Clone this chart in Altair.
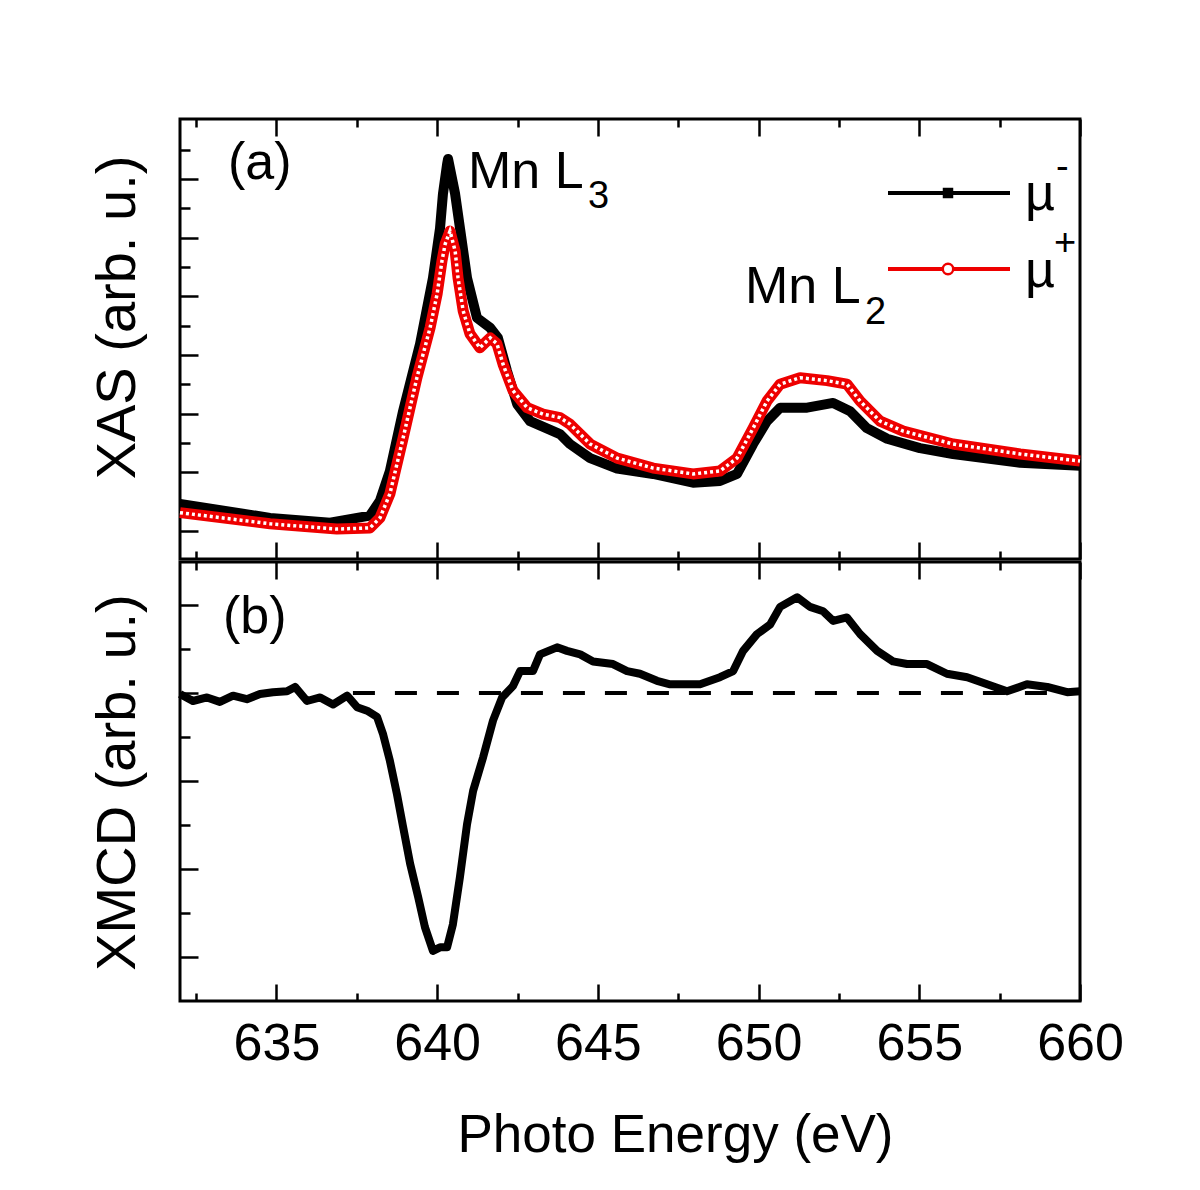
import altair as alt
import pandas as pd

# ---------------- data ----------------
# XAS, mu- (black, filled squares)
mu_minus_E = [632.0, 634.8, 636.67, 637.91, 638.22, 638.53, 638.94, 639.47, 639.87, 640.09,
              640.18, 640.31, 640.34, 640.56, 640.71, 640.93, 641.24, 641.65, 641.89, 642.17,
              642.49, 642.89, 643.82, 644.13, 644.76, 645.60, 646.72, 647.96, 648.80, 649.33,
              649.83, 650.26, 650.67, 651.51, 652.32, 652.85, 653.37, 654.00, 655.02, 656.05,
              658.14, 660.0]
mu_minus = [0.46, 0.22, 0.14, 0.26, 0.51, 1.02, 2.04, 3.19, 4.31, 5.16,
            5.74, 6.25, 6.34, 5.74, 5.16, 4.31, 3.63, 3.46, 3.29, 2.73,
            2.16, 1.87, 1.65, 1.48, 1.24, 1.06, 0.97, 0.82, 0.85, 0.97,
            1.48, 1.87, 2.10, 2.10, 2.18, 2.04, 1.75, 1.57, 1.41, 1.31,
            1.16, 1.11]

# XAS, mu+ (red, open circles)
mu_plus_E = [632.0, 634.8, 636.88, 637.91, 638.22, 638.53, 638.94, 639.37, 639.78, 640.0,
             640.15, 640.25, 640.40, 640.56, 640.65, 640.81, 641.02, 641.33, 641.65, 641.86,
             642.05, 642.36, 642.80, 643.29, 643.82, 644.13, 644.76, 645.60, 646.72, 647.96,
             648.80, 649.33, 649.83, 650.26, 650.67, 651.29, 652.13, 652.75, 653.16, 653.78,
             654.50, 656.05, 658.14, 660.0]
mu_plus = [0.31, 0.12, 0.03, 0.05, 0.22, 0.63, 1.58, 2.61, 3.46, 4.04,
           4.60, 4.89, 5.11, 4.77, 4.31, 3.75, 3.36, 3.12, 3.29, 3.19,
           2.84, 2.39, 2.10, 1.99, 1.93, 1.82, 1.48, 1.24, 1.07, 0.97,
           1.02, 1.24, 1.75, 2.21, 2.50, 2.61, 2.56, 2.50, 2.21, 1.87,
           1.70, 1.48, 1.31, 1.19]

# XMCD
xmcd_E = [632.00, 632.40, 632.84, 633.24, 633.65, 634.08, 634.49, 634.89, 635.33, 635.58,
          635.95, 636.36, 636.76, 637.20, 637.51, 637.82, 638.13, 638.32, 638.53, 638.75,
          638.94, 639.16, 639.41, 639.62, 639.87, 640.09, 640.31, 640.49, 640.71, 640.93,
          641.12, 641.43, 641.74, 642.02, 642.36, 642.58, 642.98, 643.20, 643.73, 644.04,
          644.45, 644.85, 645.47, 645.91, 646.31, 646.84, 647.25, 647.77, 648.18, 648.80,
          649.21, 649.52, 649.95, 650.36, 650.67, 651.20, 651.60, 652.01, 652.32, 652.75,
          653.16, 653.69, 654.18, 654.62, 655.24, 655.86, 656.49, 657.11, 657.73, 658.35,
          658.98, 659.60, 660.00]
xmcd = [-0.01, -0.09, -0.05, -0.10, -0.03, -0.07, -0.01, 0.01, 0.02, 0.07,
        -0.09, -0.05, -0.13, -0.03, -0.16, -0.20, -0.27, -0.47, -0.77, -1.15,
        -1.52, -1.94, -2.32, -2.66, -2.93, -2.89, -2.89, -2.63, -2.09, -1.49,
        -1.11, -0.73, -0.31, -0.05, 0.08, 0.25, 0.25, 0.44, 0.52, 0.48,
        0.44, 0.36, 0.33, 0.25, 0.22, 0.14, 0.10, 0.10, 0.10, 0.18,
        0.25, 0.48, 0.67, 0.78, 0.98, 1.09, 0.98, 0.93, 0.82, 0.86,
        0.67, 0.48, 0.36, 0.33, 0.33, 0.22, 0.18, 0.10, 0.02, 0.10,
        0.07, 0.01, 0.02]

zero_line_start = [637.38]
zero_line_end = [660.0]
zero_line_level = [0.0]

major_x = [635, 640, 645, 650, 655, 660]
minor_x = [632.5, 637.5, 642.5, 647.5, 652.5, 657.5]
major_y1 = [0, 1, 2, 3, 4, 5, 6]
minor_y1 = [0.5, 1.5, 2.5, 3.5, 4.5, 5.5, 6.5]
major_y2 = [-3, -2, -1, 0, 1]
minor_y2 = [-2.5, -1.5, -0.5, 0.5]

x_title = "Photo Energy (eV)"
y1_title = "XAS (arb. u.)"
y2_title = "XMCD (arb. u.)"

# ---------------- styling ----------------
FONT = "Liberation Sans"
FS = 52
SUB = 38
RED = "#ee0000"
W, H1, H2 = 900, 440, 439

xscale = alt.Scale(domain=[632, 660], nice=False, zero=False)
y1scale = alt.Scale(domain=[-0.48, 7.02], nice=False, zero=False)
y2scale = alt.Scale(domain=[-3.50, 1.49], nice=False, zero=False)


def tick_axis(orient, values, size, **extra):
    opts = dict(orient=orient, values=values, tickSize=size, offset=-size,
                domain=False, labels=False, grid=False, ticks=True,
                tickColor="black", tickWidth=2.5, title=None,
                minExtent=0, maxExtent=0)
    opts.update(extra)
    return alt.Axis(**opts)


title_style = dict(titleFont=FONT, titleFontWeight="normal", titleColor="black")

one = pd.DataFrame({"k": [0]})


def label(text, x, y, size=FS, color="black"):
    return alt.Chart(one).mark_text(
        text=text, font=FONT, fontSize=size, color=color,
        align="left", baseline="alphabetic"
    ).encode(x=alt.value(x), y=alt.value(y))


# ---------------- top panel: XAS ----------------
df_minus = pd.DataFrame({"E": mu_minus_E, "v": mu_minus})
df_plus = pd.DataFrame({"E": mu_plus_E, "v": mu_plus})

black = alt.Chart(df_minus).mark_line(color="black", strokeWidth=10, strokeJoin="round").encode(
    x=alt.X("E:Q", scale=xscale, axis=tick_axis("bottom", major_x, 17)),
    y=alt.Y("v:Q", scale=y1scale,
            axis=tick_axis("left", major_y1, 18, title=y1_title, titleX=-64, titleY=198,
                           titleAngle=270, titleAlign="center", titleBaseline="alphabetic",
                           titleFontSize=56, **title_style)),
)
red = alt.Chart(df_plus).mark_line(color=RED, strokeWidth=11, strokeJoin="round").encode(
    x=alt.X("E:Q", scale=xscale, axis=tick_axis("bottom", minor_x, 8)),
    y=alt.Y("v:Q", scale=y1scale, axis=tick_axis("left", minor_y1, 10)),
)
red_holes = alt.Chart(df_plus).mark_line(color="white", strokeWidth=3.5, strokeDash=[3, 3]).encode(
    x=alt.X("E:Q", scale=xscale, axis=tick_axis("top", major_x, 17)),
    y=alt.Y("v:Q", scale=y1scale, axis=None),
)
top_minor = alt.Chart(df_plus).mark_line(opacity=0).encode(
    x=alt.X("E:Q", scale=xscale, axis=tick_axis("top", minor_x, 8)),
    y=alt.Y("v:Q", scale=y1scale, axis=None),
)

leg_black_line = alt.Chart(one).mark_rule(color="black", strokeWidth=4).encode(
    x=alt.value(708), x2=alt.value(830), y=alt.value(74))
leg_black_sym = alt.Chart(one).mark_point(shape="square", filled=True, color="black", size=110,
                                          opacity=1).encode(x=alt.value(768), y=alt.value(74))
leg_red_line = alt.Chart(one).mark_rule(color=RED, strokeWidth=4).encode(
    x=alt.value(708), x2=alt.value(830), y=alt.value(150))
leg_red_sym = alt.Chart(one).mark_point(shape="circle", filled=True, fill="white", stroke=RED,
                                        strokeWidth=2.5, size=110, opacity=1).encode(
    x=alt.value(768), y=alt.value(150))

top = alt.layer(
    black, red, red_holes, top_minor,
    label("(a)", 48, 60),
    label("Mn L", 288, 69), label("3", 408, 89, SUB),
    label("Mn L", 565, 184), label("2", 685, 205, SUB),
    leg_black_line, leg_black_sym, leg_red_line, leg_red_sym,
    label("\u00b5", 845, 91), label("-", 876, 60, SUB),
    label("\u00b5", 845, 168), label("+", 874, 136, SUB),
).resolve_axis(x="independent", y="independent").properties(width=W, height=H1)

# ---------------- bottom panel: XMCD ----------------
df_xmcd = pd.DataFrame({"E": xmcd_E, "w": xmcd})
df_zero = pd.DataFrame({"E0": zero_line_start, "E1": zero_line_end, "w": zero_line_level})

zero = alt.Chart(df_zero).mark_rule(color="black", strokeWidth=4, strokeDash=[22, 20]).encode(
    x=alt.X("E0:Q", scale=xscale, axis=tick_axis("bottom", minor_x, 8)),
    x2="E1:Q",
    y=alt.Y("w:Q", scale=y2scale, axis=tick_axis("left", minor_y2, 10)),
)
xmcd_line = alt.Chart(df_xmcd).mark_line(color="black", strokeWidth=8, strokeJoin="round").encode(
    x=alt.X("E:Q", scale=xscale,
            axis=tick_axis("bottom", major_x, 17, labels=True, labelFont=FONT, labelFontSize=FS,
                           labelColor="black", labelPadding=17, labelBaseline="top",
                           labelFlush=False, labelOverlap=False, maxExtent=200,
                           title=x_title, titleX=495, titleY=167, titleBaseline="alphabetic",
                           titleAlign="center", titleFontSize=53, **title_style)),
    y=alt.Y("w:Q", scale=y2scale,
            axis=tick_axis("left", major_y2, 18, title=y2_title, titleX=-64, titleY=220,
                           titleAngle=270, titleAlign="center", titleBaseline="alphabetic",
                           titleFontSize=56, **title_style)),
)
b_top_major = alt.Chart(df_xmcd).mark_line(opacity=0).encode(
    x=alt.X("E:Q", scale=xscale, axis=tick_axis("top", major_x, 17)),
    y=alt.Y("w:Q", scale=y2scale, axis=None),
)
b_top_minor = alt.Chart(df_xmcd).mark_line(opacity=0).encode(
    x=alt.X("E:Q", scale=xscale, axis=tick_axis("top", minor_x, 8)),
    y=alt.Y("w:Q", scale=y2scale, axis=None),
)

bottom = alt.layer(
    zero, xmcd_line, b_top_major, b_top_minor,
    label("(b)", 43, 71),
).resolve_axis(x="independent", y="independent").properties(width=W, height=H2)

chart = alt.vconcat(top, bottom, spacing=-9).properties(
    padding={"left": 79, "top": 108, "right": 20, "bottom": 10}
).configure(font=FONT).configure_view(stroke="black", strokeWidth=3)

chart.save("out.html", embed_options={"renderer": "svg", "actions": False})
